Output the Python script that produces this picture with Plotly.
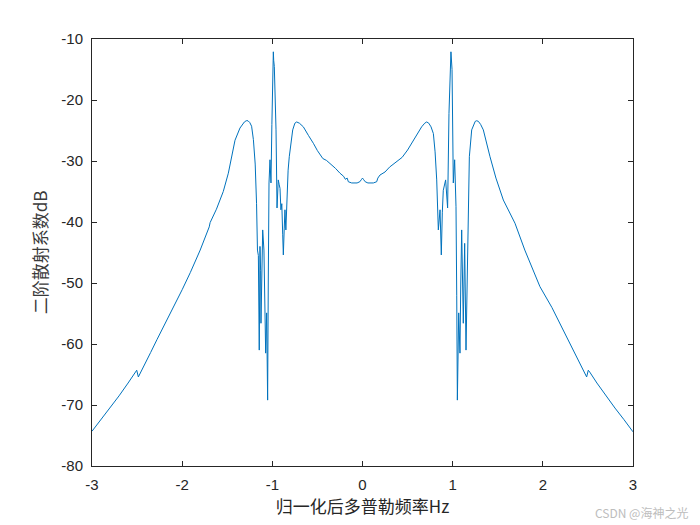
import plotly.graph_objects as go

# Left half readings (x: normalized Doppler frequency, y: dB)
x_left = [-3.00, -2.90, -2.80, -2.70, -2.60, -2.52, -2.504, -2.486, -2.47, -2.43,
          -2.35, -2.28, -2.20, -2.10, -2.00, -1.91, -1.80, -1.70, -1.69, -1.62,
          -1.544, -1.488, -1.451, -1.414, -1.359, -1.33, -1.31, -1.29, -1.27, -1.25,
          -1.23, -1.21, -1.19, -1.175, -1.165, -1.155, -1.145, -1.137, -1.13, -1.126,
          -1.115, -1.107, -1.093, -1.08, -1.074, -1.063, -1.052, -1.045, -1.037, -1.026,
          -1.015, -1.005, -0.996, -0.989, -0.985, -0.978, -0.968, -0.959, -0.948, -0.940,
          -0.934, -0.925, -0.915, -0.905, -0.895, -0.885, -0.878, -0.868, -0.86, -0.85,
          -0.84, -0.825, -0.812, -0.79, -0.774, -0.75, -0.73, -0.70, -0.656, -0.60,
          -0.58, -0.545, -0.50, -0.471, -0.44, -0.40, -0.36, -0.30, -0.25, -0.21,
          -0.19, -0.17, -0.157, -0.12, -0.06, -0.03, -0.01, 0.0]
y_left = [-74.3, -72.4, -70.5, -68.5, -66.4, -64.6, -64.3, -65.4, -64.9, -63.8,
          -61.4, -59.3, -57.0, -54.0, -51.1, -48.3, -44.6, -40.8, -40.1, -37.9,
          -35.0, -32.0, -29.3, -26.6, -24.6, -23.9, -23.6, -23.4, -23.4, -23.7,
          -24.3, -26.5, -30.5, -37.0, -44.6, -45.5, -61.0, -44.0, -48.0, -56.6,
          -44.0, -41.3, -44.6, -58.0, -61.5, -54.9, -69.2, -50.0, -33.6, -29.8,
          -33.6, -24.0, -16.2, -12.1, -13.5, -14.5, -19.0, -24.9, -37.7, -33.5,
          -33.1, -33.8, -34.5, -38.0, -37.0, -42.0, -45.4, -41.0, -38.0, -41.3,
          -36.0, -31.5, -29.3, -26.5, -24.9, -23.8, -23.6, -23.8, -24.4, -25.8,
          -26.2, -27.1, -28.3, -29.0, -29.6, -29.9, -30.4, -31.2, -32.0, -32.5,
          -33.0, -32.8, -33.4, -33.6, -33.6, -33.4, -33.0, -32.8]

# Right half readings
x_right = [0.01, 0.03, 0.06, 0.12, 0.157, 0.17, 0.194, 0.25, 0.30, 0.379,
           0.44, 0.50, 0.564, 0.60, 0.656, 0.69, 0.712, 0.735, 0.76, 0.786,
           0.805, 0.823, 0.841, 0.86, 0.874, 0.885, 0.896, 0.922, 0.944, 0.959,
           0.970, 0.981, 0.993, 1.007, 1.022, 1.037, 1.045, 1.052, 1.067, 1.081,
           1.090, 1.100, 1.118, 1.133, 1.148, 1.163, 1.175, 1.185, 1.211, 1.235,
           1.25, 1.266, 1.285, 1.31, 1.34, 1.414, 1.48, 1.562, 1.62, 1.691,
           1.80, 1.90, 1.968, 2.10, 2.20, 2.28, 2.35, 2.43, 2.47, 2.486,
           2.504, 2.52, 2.60, 2.70, 2.80, 2.90, 3.00]
y_right = [-33.0, -33.4, -33.6, -33.6, -33.4, -32.8, -32.3, -31.8, -31.0, -30.1,
           -29.4, -28.2, -26.6, -25.6, -24.4, -23.8, -23.6, -23.8, -24.4, -25.5,
           -28.5, -33.1, -41.3, -38.0, -45.4, -38.5, -34.8, -33.1, -37.7, -22.2,
           -16.0, -12.1, -15.0, -33.6, -29.8, -37.5, -52.0, -69.2, -54.9, -61.5,
           -50.0, -41.3, -56.6, -43.5, -61.0, -44.6, -35.0, -29.3, -24.9, -23.8,
           -23.5, -23.4, -23.5, -24.0, -24.9, -29.3, -32.8, -36.4, -38.2, -40.2,
           -44.6, -48.3, -50.6, -54.0, -57.0, -59.3, -61.4, -63.8, -64.9, -65.4,
           -64.3, -64.6, -66.4, -68.5, -70.5, -72.4, -74.4]

x_vals = x_left + x_right
y_vals = y_left + y_right

x_ticks = [-3, -2, -1, 0, 1, 2, 3]
y_ticks = [-80, -70, -60, -50, -40, -30, -20, -10]

fig = go.Figure()
fig.add_trace(go.Scatter(x=x_vals, y=y_vals, mode="lines",
                         line=dict(color="#0072BD", width=1), showlegend=False))

axis_common = dict(showline=True, linecolor="#262626", linewidth=1, mirror="ticks",
                   ticks="inside", ticklen=5, tickcolor="#262626", showgrid=False,
                   zeroline=False, tickfont=dict(family="Arial, Liberation Sans", size=15, color="#262626"))

fig.update_xaxes(range=[-3, 3], tickvals=x_ticks, ticktext=[str(v) for v in x_ticks],
                 ticklabelstandoff=5,
                 title=dict(text="归一化后多普勒频率Hz", standoff=6,
                            font=dict(family="Noto Sans CJK SC", size=17, color="#262626")),
                 **axis_common)
fig.update_yaxes(range=[-80, -10], tickvals=y_ticks, ticktext=[str(v) for v in y_ticks],
                 title=dict(text="二阶散射系数dB", standoff=9,
                            font=dict(family="Noto Sans CJK SC", size=17, color="#3a3a3a")),
                 ticklabelstandoff=5, **axis_common)

fig.add_annotation(text="CSDN @海神之光", xref="paper", yref="paper", x=1.105, y=-0.108,
                   xanchor="right", yanchor="middle", showarrow=False,
                   font=dict(family="Noto Sans CJK SC", size=12, color="#bdbdbd"))

fig.update_layout(width=692, height=517, margin=dict(l=84, r=67, t=31, b=59),
                  plot_bgcolor="white", paper_bgcolor="white")

fig.write_html("out.html")
